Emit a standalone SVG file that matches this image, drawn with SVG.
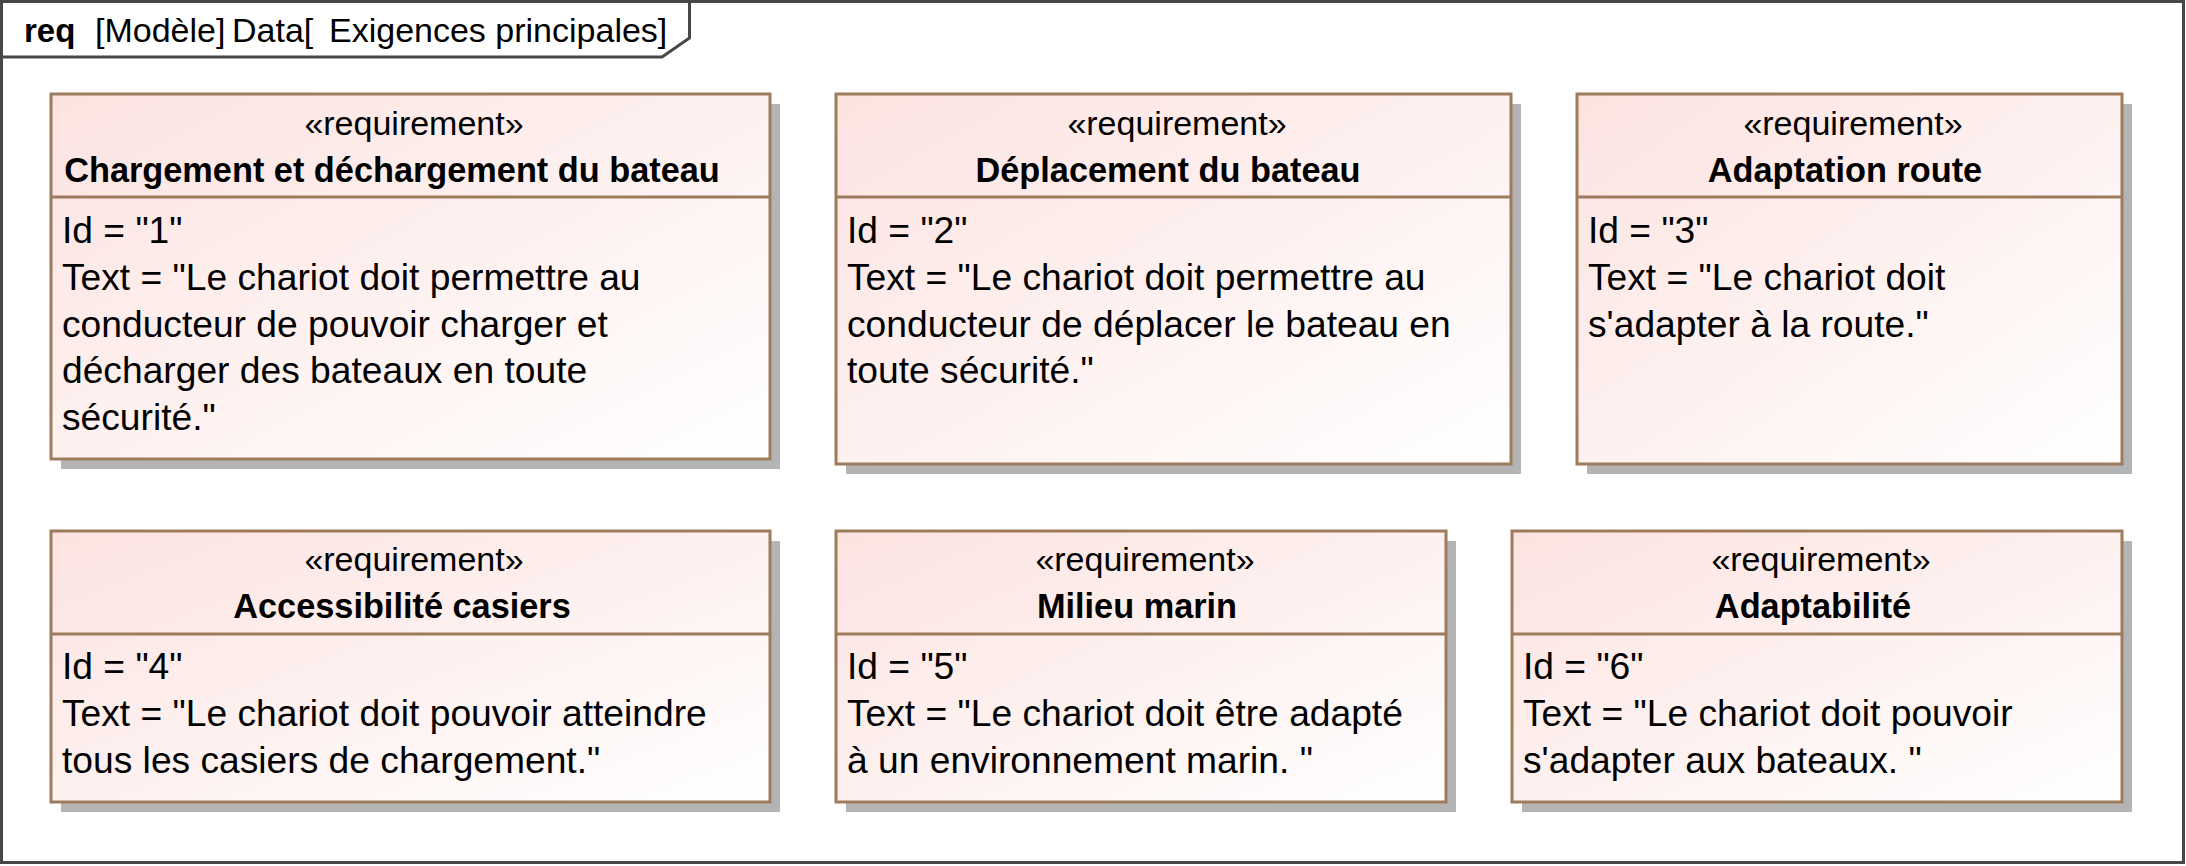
<svg xmlns="http://www.w3.org/2000/svg" width="2186" height="866" viewBox="0 0 2186 866">
<defs>
<linearGradient id="fill" x1="0" y1="0" x2="1" y2="1">
<stop offset="0" stop-color="#fce3e0"/>
<stop offset="1" stop-color="#ffffff"/>
</linearGradient>
<style>
.frame{fill:none;stroke:#474747;stroke-width:3}
.shadow{fill:#b4b4b4}
.box{fill:url(#fill);stroke:#9d7b5d;stroke-width:3}
.sep{stroke:#9d7b5d;stroke-width:3}
.st{font-family:"Liberation Sans",Arial,sans-serif;font-size:34px;fill:#000;text-anchor:middle}
.ti{font-family:"Liberation Sans",Arial,sans-serif;font-size:34.3px;font-weight:bold;fill:#000;text-anchor:middle}
.bd{font-family:"Liberation Sans",Arial,sans-serif;font-size:37.2px;fill:#000}
.ft{font-family:"Liberation Sans",Arial,sans-serif;font-size:34px;fill:#000}
.fb{font-family:"Liberation Sans",Arial,sans-serif;font-size:33px;font-weight:bold;fill:#000}
</style>
</defs>
<rect x="0" y="0" width="2186" height="866" fill="#ffffff"/>
<g id="frame">
<rect class="frame" x="1.5" y="1.5" width="2182" height="861"/>
<path class="frame" d="M1.5 57 L662 57 L689.5 38 L689.5 1.5"/>
<text class="fb" x="24" y="42">req</text>
<text class="ft" x="95" y="42">[Modèle]</text>
<text class="ft" x="232" y="42">Data[</text>
<text class="ft" x="329" y="42">Exigences principales]</text>
</g>
<g id="connectors"></g>
<g id="req1">
<rect class="shadow" x="61" y="104" width="719" height="365"/>
<rect class="box" x="51" y="94" width="719" height="365"/>
<line class="sep" x1="51" y1="197" x2="770" y2="197"/>
<text class="st" x="414" y="135">«requirement»</text>
<text class="ti" x="392" y="182">Chargement et déchargement du bateau</text>
<text class="bd" x="62" y="243">Id = "1"</text>
<text class="bd" x="62" y="290">Text = "Le chariot doit permettre au</text>
<text class="bd" x="62" y="337">conducteur de pouvoir charger et</text>
<text class="bd" x="62" y="383">décharger des bateaux en toute</text>
<text class="bd" x="62" y="430">sécurité."</text>
</g>
<g id="req2">
<rect class="shadow" x="846" y="104" width="675" height="370"/>
<rect class="box" x="836" y="94" width="675" height="370"/>
<line class="sep" x1="836" y1="197" x2="1511" y2="197"/>
<text class="st" x="1177" y="135">«requirement»</text>
<text class="ti" x="1168" y="182">Déplacement du bateau</text>
<text class="bd" x="847" y="243">Id = "2"</text>
<text class="bd" x="847" y="290">Text = "Le chariot doit permettre au</text>
<text class="bd" x="847" y="337">conducteur de déplacer le bateau en</text>
<text class="bd" x="847" y="383">toute sécurité."</text>
</g>
<g id="req3">
<rect class="shadow" x="1587" y="104" width="545" height="370"/>
<rect class="box" x="1577" y="94" width="545" height="370"/>
<line class="sep" x1="1577" y1="197" x2="2122" y2="197"/>
<text class="st" x="1853" y="135">«requirement»</text>
<text class="ti" x="1845" y="182">Adaptation route</text>
<text class="bd" x="1588" y="243">Id = "3"</text>
<text class="bd" x="1588" y="290">Text = "Le chariot doit</text>
<text class="bd" x="1588" y="337">s'adapter à la route."</text>
</g>
<g id="req4">
<rect class="shadow" x="61" y="541" width="719" height="271"/>
<rect class="box" x="51" y="531" width="719" height="271"/>
<line class="sep" x1="51" y1="634" x2="770" y2="634"/>
<text class="st" x="414" y="571">«requirement»</text>
<text class="ti" x="402" y="618">Accessibilité casiers</text>
<text class="bd" x="62" y="679">Id = "4"</text>
<text class="bd" x="62" y="726">Text = "Le chariot doit pouvoir atteindre</text>
<text class="bd" x="62" y="773">tous les casiers de chargement."</text>
</g>
<g id="req5">
<rect class="shadow" x="846" y="541" width="610" height="271"/>
<rect class="box" x="836" y="531" width="610" height="271"/>
<line class="sep" x1="836" y1="634" x2="1446" y2="634"/>
<text class="st" x="1145" y="571">«requirement»</text>
<text class="ti" x="1137" y="618">Milieu marin</text>
<text class="bd" x="847" y="679">Id = "5"</text>
<text class="bd" x="847" y="726">Text = "Le chariot doit être adapté</text>
<text class="bd" x="847" y="773">à un environnement marin.&#160;"</text>
</g>
<g id="req6">
<rect class="shadow" x="1522" y="541" width="610" height="271"/>
<rect class="box" x="1512" y="531" width="610" height="271"/>
<line class="sep" x1="1512" y1="634" x2="2122" y2="634"/>
<text class="st" x="1821" y="571">«requirement»</text>
<text class="ti" x="1813" y="618">Adaptabilité</text>
<text class="bd" x="1523" y="679">Id = "6"</text>
<text class="bd" x="1523" y="726">Text = "Le chariot doit pouvoir</text>
<text class="bd" x="1523" y="773">s'adapter aux bateaux.&#160;"</text>
</g>
</svg>
